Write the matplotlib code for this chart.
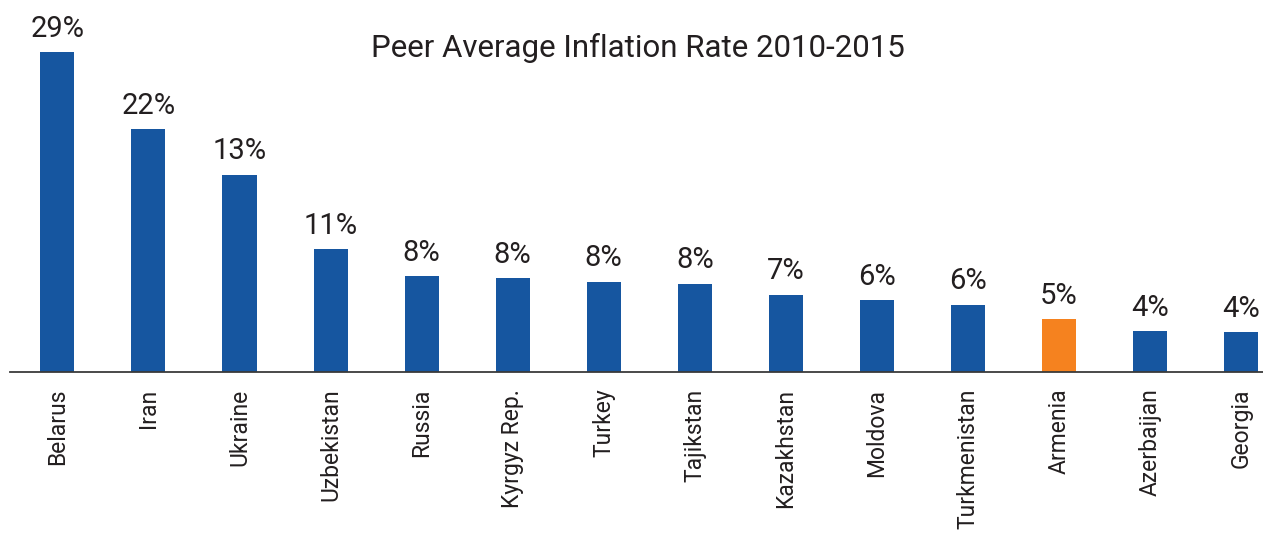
import matplotlib
matplotlib.use("Agg")
import matplotlib.pyplot as plt
import numpy as np

countries = ["Belarus", "Iran", "Ukraine", "Uzbekistan", "Russia", "Kyrgyz Rep.",
             "Turkey", "Tajikstan", "Kazakhstan", "Moldova", "Turkmenistan",
             "Armenia", "Azerbaijan", "Georgia"]
values = [29.0, 22.0, 17.9, 11.15, 8.7, 8.5, 8.2, 8.0, 7.0, 6.5, 6.1, 4.8, 3.7, 3.6]
value_labels = ["29%", "22%", "13%", "11%", "8%", "8%", "8%", "8%", "7%", "6%", "6%",
                "5%", "4%", "4%"]
highlight = "Armenia"
title = "Peer Average Inflation Rate 2010-2015"

BLUE = "#1656A0"
ORANGE = "#F5821F"
TXT = "#231F20"

plt.rcParams['font.family'] = ['Roboto', 'DejaVu Sans']

W, H = 1263, 538
fig = plt.figure(figsize=(W / 100, H / 100), dpi=100)
ax = fig.add_axes([10 / W, 166 / H, 1253 / W, 331 / H])

x = np.arange(len(countries))
colors = [ORANGE if c == highlight else BLUE for c in countries]
ax.bar(x, values, width=0.374, color=colors)

for xi, v, lab in zip(x, values, value_labels):
    ax.annotate(lab, (xi, v), xytext=(0, 11), textcoords="offset points",
                ha="center", va="baseline", fontsize=21, color=TXT,
                annotation_clip=False)

ax.set_xlim(-0.52, 13.24)
ax.set_ylim(0, 30)
ax.set_xticks(x)
ax.set_xticklabels(countries, rotation=90, fontsize=16.5, color=TXT)
ax.tick_params(axis="x", length=0, pad=12)
ax.set_yticks([])
for s in ["top", "right", "left"]:
    ax.spines[s].set_visible(False)
ax.spines["bottom"].set_color("#3a3a3a")
ax.spines["bottom"].set_linewidth(1.3)

fig.text(638 / W, 1 - 57 / H, title, ha="center", va="baseline", fontsize=22.5, color=TXT)

fig.savefig("out.png", dpi=100)
